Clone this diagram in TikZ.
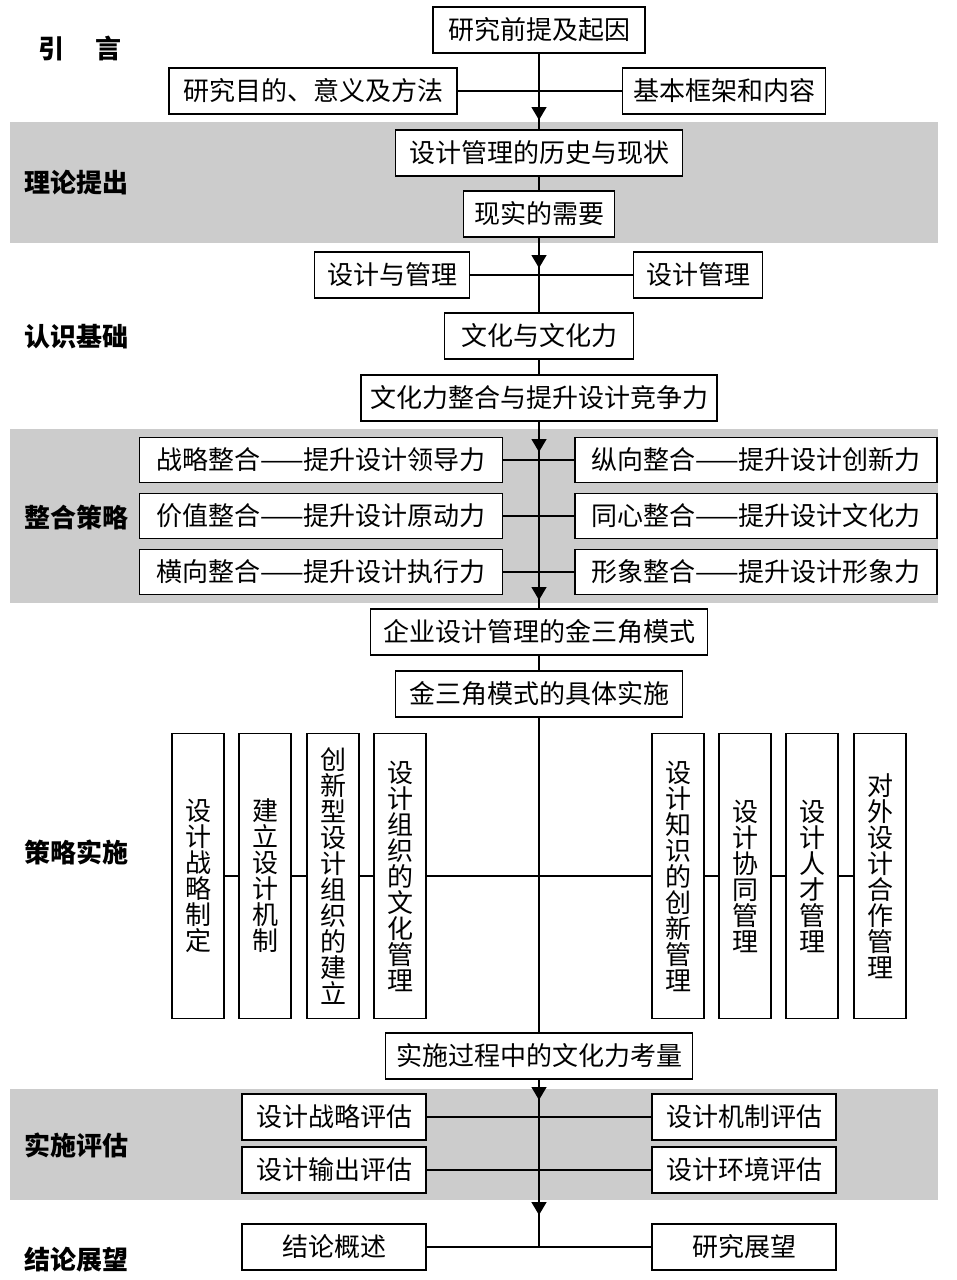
\documentclass[tikz,border=0pt]{standalone}
\usepackage{fontspec}
\setmainfont{Noto Sans CJK SC}
\usetikzlibrary{arrows.meta}
\newcommand{\boxfont}{\fontsize{26}{26}\selectfont}
\tikzset{bx/.style={draw=black, line width=1.5pt, fill=white, inner sep=0pt, minimum height=46pt, font=\boxfont},
        vb/.style={draw=black, line width=1.5pt, fill=white, inner sep=0pt, minimum width=52pt, minimum height=285pt, align=center, font=\boxfont},
        lb/.style={anchor=west, inner sep=0pt, font=\boxfont\bfseries},
        ln/.style={line width=1.5pt},
        ar/.style={line width=1.5pt, -{Triangle[width=15pt, length=13pt]}},
        band/.style={fill=black!20}}

\begin{document}
\begin{tikzpicture}[x=1pt, y=-1pt]
    \useasboundingbox (0,0) rectangle (956,1280);
    % grey bands
    \fill[band] (10,122) rectangle (938,243);
    \fill[band] (10,429) rectangle (938,603);
    \fill[band] (10,1089) rectangle (938,1200);

    % left labels
    \node[lb] (lab0) at (38,49) {引\hspace{1.2em}言};
    \foreach \n/\y/\txt in {lab1/183/理论提出, lab2/337/认识基础, lab3/518/整合策略, lab4/852/策略实施, lab5/1145/实施评估, lab6/1260/结论展望}
        \node[lb] (\n) at (24,\y) {\txt};

    % main column
    \foreach \n/\y/\w/\txt in {top/30/212/研究前提及起因, hist/153/287/设计管理的历史与现状, need/214/151/现实的需要, cul/336/189/文化与文化力, cmp/398/356/文化力整合与提升设计竞争力, gold/632/337/企业设计管理的金三角模式, apply/694/287/金三角模式的具体实施, cons/1056/307/实施过程中的文化力考量}
        \node[bx, minimum width=\w] (\n) at (539,\y) {\txt};

    % side boxes
    \foreach \n/\x/\y/\w/\txt in {aim/313/91/288/研究目的、意义及方法, frame/724/91/203/基本框架和内容, dmA/392/275/155/设计与管理, dmB/698/275/129/设计管理, E1/334/1117/184/设计战略评估, E2/334/1170/184/设计输出评估, E3/744/1117/184/设计机制评估, E4/744/1170/184/设计环境评估, C1/334/1247/184/结论概述, C2/744/1247/184/研究展望}
        \node[bx, minimum width=\w] (\n) at (\x,\y) {\txt};

    % integration rows
    \foreach \y/\a/\b [count=\i] in {460/战略整合——提升设计领导力/纵向整合——提升设计创新力, 516/价值整合——提升设计原动力/同心整合——提升设计文化力, 572/横向整合——提升设计执行力/形象整合——提升设计形象力} {
        \node[bx, minimum width=363, minimum height=45] (L\i) at (321,\y) {\a};
        \node[bx, minimum width=362, minimum height=45] (R\i) at (756,\y) {\b};
        \draw[ln] (L\i) -- (R\i);
    }

    % vertical boxes
    \foreach \n/\x/\txt in {V1/198/{设\\计\\战\\略\\制\\定}, V2/265/{建\\立\\设\\计\\机\\制}, V3/333/{创\\新\\型\\设\\计\\组\\织\\的\\建\\立}, V4/400/{设\\计\\组\\织\\的\\文\\化\\管\\理}, V5/678/{设\\计\\知\\识\\的\\创\\新\\管\\理}, V6/745/{设\\计\\协\\同\\管\\理}, V7/812/{设\\计\\人\\才\\管\\理}, V8/880/{对\\外\\设\\计\\合\\作\\管\\理}}
        \node[vb] (\n) at (\x,876) {\txt};
    \foreach \a/\b in {V1/V2, V2/V3, V3/V4, V4/V5, V5/V6, V6/V7, V7/V8}
        \draw[ln] (\a) -- (\b);

    % arrow tips on the main line
    \coordinate (t1) at (539,120);
    \coordinate (t2) at (539,268);
    \coordinate (t3) at (539,452);
    \coordinate (t4) at (539,600);
    \coordinate (t5) at (539,1100);
    \coordinate (t6) at (539,1215);
    \coordinate (bot) at (539,1247);

    \draw[ln] (top) -- (hist);
    \draw[ar] (top) -- (t1);
    \draw[ln] (aim) -- (frame);
    \draw[ln] (hist) -- (need);
    \draw[ln] (need) -- (cul);
    \draw[ar] (need) -- (t2);
    \draw[ln] (dmA) -- (dmB);
    \draw[ln] (cul) -- (cmp);
    \draw[ln] (cmp) -- (gold);
    \draw[ar] (cmp) -- (t3);
    \draw[ar] (cmp) -- (t4);
    \draw[ln] (gold) -- (apply);
    \draw[ln] (apply) -- (cons);
    \draw[ln] (cons) -- (bot);
    \draw[ar] (cons) -- (t5);
    \draw[ar] (cons) -- (t6);
    \draw[ln] (E1) -- (E3);
    \draw[ln] (E2) -- (E4);
    \draw[ln] (C1) -- (C2);
\end{tikzpicture}
\end{document}
